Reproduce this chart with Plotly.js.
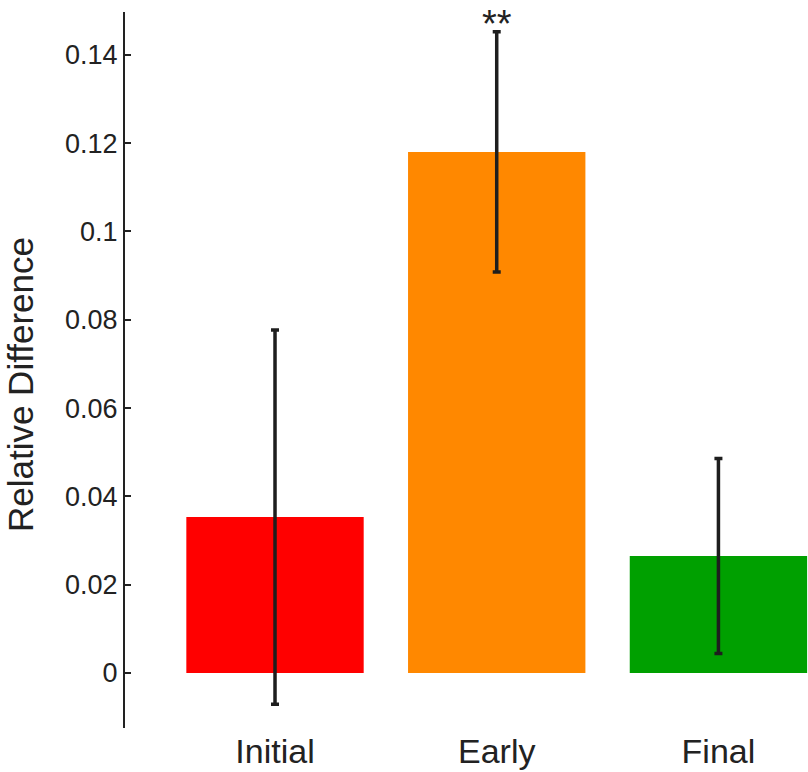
<!DOCTYPE html>
<html>
<head>
<meta charset="utf-8">
<script src="https://cdn.plot.ly/plotly-3.0.1.min.js"></script>
<style>html,body{margin:0;padding:0;background:#fff;}#chart{width:808px;height:772px;}</style>
</head>
<body>
<div id="chart"></div>
<script>
const categories = ["Initial", "Early", "Final"];
const values = [0.0353, 0.1180, 0.0265];
const errors = [0.0424, 0.0272, 0.0221];
const barColors = ["#ff0000", "#ff8800", "#00a000"];
const significance = ["", "**", ""];
const yTickValues = [0, 0.02, 0.04, 0.06, 0.08, 0.1, 0.12, 0.14];
const yTickLabels = ["0", "0.02", "0.04", "0.06", "0.08", "0.1", "0.12", "0.14"];
const yAxisTitle = "Relative Difference";

const xs = categories.map((c, i) => i);
const FONT = "Liberation Sans, Arial, sans-serif";

const trace = {
  type: "bar",
  x: xs,
  y: values,
  width: 0.8,
  marker: {color: barColors, line: {width: 0}},
  error_y: {type: "data", array: errors, visible: true, color: "#1e1e1e", thickness: 3.5, width: 4},
  hoverinfo: "none"
};

const annotations = [];
significance.forEach((s, i) => {
  if (s) annotations.push({
    x: xs[i], y: 1, xref: "x", yref: "paper",
    text: s, showarrow: false, yanchor: "top", yshift: 10, borderpad: 0,
    font: {family: FONT, size: 38, color: "#222"}
  });
});
annotations.push({
  xref: "paper", yref: "paper", x: -0.1537, y: 0.479,
  xanchor: "center", yanchor: "middle", textangle: -90, borderpad: 0,
  text: yAxisTitle, showarrow: false,
  font: {family: FONT, size: 35, color: "#222"}
});

const layout = {
  width: 808, height: 772,
  margin: {l: 125, r: 0, t: 12, b: 44},
  paper_bgcolor: "#fff", plot_bgcolor: "#fff",
  showlegend: false,
  font: {family: FONT, color: "#222"},
  xaxis: {
    range: [-0.6766, 2.404],
    tickvals: xs, ticktext: categories,
    showline: false, showgrid: false, zeroline: false, ticks: "",
    tickfont: {size: 34, color: "#222"},
    automargin: false, fixedrange: true
  },
  yaxis: {
    range: [-0.01246, 0.1497],
    tickvals: yTickValues, ticktext: yTickLabels,
    showline: true, linecolor: "#222", linewidth: 2,
    ticks: "inside", ticklen: 6, tickwidth: 2, tickcolor: "#222",
    showgrid: false, zeroline: false,
    tickfont: {size: 27, color: "#222"},
    automargin: false, fixedrange: true
  },
  annotations: annotations
};

Plotly.newPlot("chart", [trace], layout, {displayModeBar: false, staticPlot: true});
</script>
</body>
</html>
